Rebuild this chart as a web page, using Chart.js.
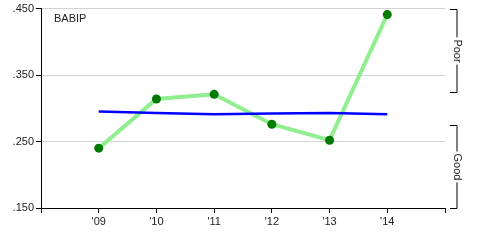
<!DOCTYPE html>
<html>
<head>
<meta charset="utf-8">
<script src="https://cdn.jsdelivr.net/npm/chart.js@4"></script>
<style>
  html, body { margin: 0; padding: 0; background: #fff; }
</style>
</head>
<body>
<canvas id="myChart" width="490" height="245"></canvas>
<script>
const ctx = document.getElementById('myChart');

// data
let years = [2009, 2010, 2011, 2012, 2013, 2014];
let babip = [0.240, 0.314, 0.321, 0.276, 0.252, 0.441];
let leagueAvg = [0.295, 0.293, 0.291, 0.292, 0.293, 0.291];
let yTicks = [0.150, 0.250, 0.350, 0.450];
let xTicks = [2008, 2009, 2010, 2011, 2012, 2013, 2014, 2015];
let bands = [
  { label: "Poor", from: 0.325, to: 0.450 },
  { label: "Good", from: 0.150, to: 0.275 }
];

const font = { family: "'Liberation Sans', Arial, sans-serif", size: 11 };

const extras = {
  id: 'extras',
  afterDraw(chart) {
    const c = chart.ctx;
    const y = chart.scales.y;
    const area = chart.chartArea;
    c.save();
    // chart label
    c.font = "11px 'Liberation Sans', Arial, sans-serif";
    c.fillStyle = '#222';
    c.textBaseline = 'middle';
    c.textAlign = 'left';
    c.fillText('BABIP', area.left + 13, area.top + 10);

    // right-hand brackets
    const bx = area.right + 12;
    bands.forEach(b => {
      const top = Math.round(y.getPixelForValue(b.to)) + 0.5;
      const bot = Math.round(y.getPixelForValue(b.from)) + 0.5;
      c.strokeStyle = '#000';
      c.lineWidth = 1;
      c.beginPath();
      c.moveTo(bx - 7, top);
      c.lineTo(bx, top);
      c.lineTo(bx, bot);
      c.lineTo(bx - 7, bot);
      c.stroke();
      const mid = (top + bot) / 2;
      c.translate(bx, mid);
      c.rotate(Math.PI / 2);
      const w = c.measureText(b.label).width;
      c.fillStyle = '#fff';
      c.fillRect(-w / 2 - 2, -6, w + 4, 12);
      c.fillStyle = '#222';
      c.textAlign = 'center';
      c.fillText(b.label, 0, 0);
      c.setTransform(1, 0, 0, 1, 0, 0);
    });
    c.restore();
  }
};

new Chart(ctx, {
  type: 'line',
  data: {
    datasets: [
      {
        label: 'League',
        data: years.map((yr, i) => ({ x: yr, y: leagueAvg[i] })),
        borderColor: '#0000ff',
        borderWidth: 2.5,
        pointRadius: 0,
        fill: false,
        tension: 0
      },
      {
        label: 'BABIP',
        data: years.map((yr, i) => ({ x: yr, y: babip[i] })),
        borderColor: '#90ee90',
        borderWidth: 4,
        pointRadius: 4.5,
        pointBackgroundColor: '#007a00',
        pointBorderColor: '#007a00',
        pointBorderWidth: 0,
        fill: false,
        tension: 0
      }
    ]
  },
  options: {
    responsive: false,
    animation: false,
    layout: { padding: { top: 8, right: 45, left: 0, bottom: 0 } },
    plugins: {
      legend: { display: false },
      tooltip: { enabled: false }
    },
    scales: {
      x: {
        type: 'linear',
        min: 2008,
        max: 2015,
        afterBuildTicks: (s) => { s.ticks = xTicks.map(v => ({ value: v })); },
        afterFit: (s) => { s.height = 37; },
        grid: { drawOnChartArea: false, tickLength: 5, tickColor: '#000' },
        border: { color: '#000', width: 1 },
        ticks: {
          color: '#222',
          font: font,
          padding: 2,
          maxRotation: 0,
          autoSkip: false,
          callback: (v) => (v >= 2009 && v <= 2014) ? "'" + String(v).slice(2) : ''
        }
      },
      y: {
        min: 0.150,
        max: 0.450,
        afterBuildTicks: (s) => { s.ticks = yTicks.map(v => ({ value: v })); },
        afterFit: (s) => { s.width = 41; },
        grid: { color: '#d3d3d3', tickColor: '#000', tickLength: 5 },
        border: { color: '#000', width: 1 },
        ticks: {
          color: '#222',
          font: font,
          padding: 2,
          callback: (v) => v.toFixed(3).replace(/^0/, '')
        }
      }
    }
  },
  plugins: [extras]
});
</script>
</body>
</html>
